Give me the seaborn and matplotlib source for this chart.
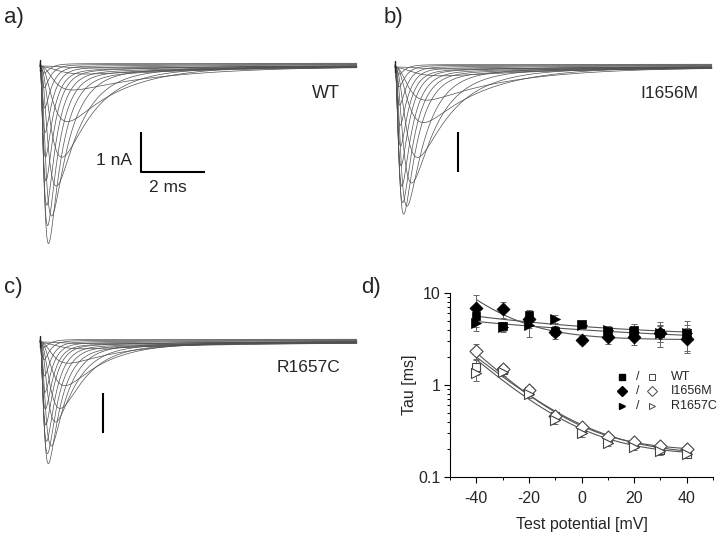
import numpy as np
import pandas as pd
import matplotlib
matplotlib.use('Agg')
import matplotlib.pyplot as plt
import seaborn as sns
from matplotlib.ticker import MultipleLocator, FixedLocator, FixedFormatter, LogLocator, NullFormatter

# ---------------- panels a-c: sodium current traces ----------------
# one entry per test pulse: peak current [nA], activation tau [ms], fast inactivation tau [ms]
wt_amp = [0.05, 0.18, 0.6, 1.4, 2.27, 3.0, 3.77, 4.43, 4.0, 3.5, 2.9, 2.3, 1.7, 1.1, 0.6, 0.25]
wt_tau_h = [4.0, 3.5, 3.0, 1.6, 1.0, 0.75, 0.55, 0.42, 0.37, 0.33, 0.3, 0.27, 0.25, 0.23, 0.21, 0.2]

i1656m_amp = [0.05, 0.2, 0.83, 1.4, 2.25, 2.9, 3.5, 3.67, 3.4, 3.0, 2.5, 2.0, 1.5, 1.0, 0.55, 0.25]
i1656m_tau_h = [4.0, 3.5, 2.6, 1.8, 1.1, 0.8, 0.6, 0.45, 0.39, 0.35, 0.31, 0.28, 0.26, 0.24, 0.22, 0.2]

r1657c_amp = [0.04, 0.15, 0.53, 1.1, 1.65, 2.0, 2.62, 3.03, 2.8, 2.5, 2.1, 1.7, 1.3, 0.9, 0.5, 0.2]
r1657c_tau_h = [3.5, 3.0, 1.8, 1.2, 0.8, 0.65, 0.5, 0.4, 0.35, 0.31, 0.28, 0.26, 0.24, 0.22, 0.2, 0.19]

trace_tau_m = [0.6, 0.45, 0.3, 0.3, 0.27, 0.2, 0.14, 0.1, 0.09, 0.08, 0.07, 0.065, 0.06, 0.055, 0.05, 0.05]
trace_offset = [0.0, -0.02, 0.0, 0.01, -0.01, 0.0, 0.02, -0.01, 0.01, 0.02, 0.03, 0.02, 0.04, 0.05, 0.06, 0.07]
slow_tau = 4.5      # ms, slow inactivation component
slow_frac = 0.03
artifact_nA = [0.15, -0.12]   # capacitive spike at pulse onset

# ---------------- panel d: inactivation time constants ----------------
potential = [-40, -30, -20, -10, 0, 10, 20, 30, 40]

wt_slow = [5.66, 4.33, 5.7, 3.9, 4.59, 3.9, 4.0, 3.7, 3.66]
wt_slow_err = [0.6, 0.5, 0.8, 0.5, 0.4, 0.5, 0.6, 1.1, 1.3]
wt_fast = [1.58, 1.46, 0.87, 0.46, 0.33, 0.26, 0.227, 0.196, 0.177]
wt_fast_err = [0.3, 0.15, 0.08, 0.04, 0.03, 0.02, 0.015, 0.015, 0.015]

i1656m_slow = [6.86, 6.7, 5.2, 3.8, 3.1, 3.3, 3.3, 3.7, 3.2]
i1656m_slow_err = [2.6, 1.3, 1.0, 0.6, 0.3, 0.5, 0.6, 0.8, 1.0]
i1656m_fast = [2.35, 1.48, 0.88, 0.46, 0.35, 0.27, 0.24, 0.216, 0.2]
i1656m_fast_err = [0.45, 0.15, 0.08, 0.04, 0.03, 0.02, 0.015, 0.015, 0.015]

r1657c_slow = [4.7, 4.3, 4.5, 5.25, 4.5, 4.0, 3.8, 3.66, 3.7]
r1657c_slow_err = [0.8, 0.5, 1.2, 0.5, 0.4, 0.4, 0.5, 0.7, 0.8]
r1657c_fast = [1.36, 1.4, 0.8, 0.42, 0.3, 0.235, 0.21, 0.19, 0.18]
r1657c_fast_err = [0.25, 0.15, 0.08, 0.04, 0.03, 0.02, 0.015, 0.015, 0.015]

# exponential fits tau = C + A * exp(-(V + 40) / k): (C, A, k)
wt_fit_slow = (3.3, 2.3, 50)
wt_fit_fast = (0.17, 1.85, 18)
i1656m_fit_slow = (3.1, 5.4, 15)
i1656m_fit_fast = (0.19, 2.06, 16)
r1657c_fit_slow = (2.8, 2.1, 70)
r1657c_fit_fast = (0.17, 1.72, 17)

sns.set_style('ticks')
plt.rcParams['font.family'] = ['Liberation Sans', 'DejaVu Sans']
plt.rcParams['axes.unicode_minus'] = False

W, H = 720, 534
fig = plt.figure(figsize=(W / 100, H / 100), dpi=100)


def px_axes(x0, y0, x1, y1):
    return fig.add_axes([x0 / W, 1 - y1 / H, (x1 - x0) / W, (y1 - y0) / H])


def px_text(x, y, s, **kw):
    fig.text(x / W, 1 - y / H, s, **kw)


t = np.linspace(0, 9.9, 1200)


def traces_frame(amp, tau_h):
    rows = []
    for i, (a, tm, th, off) in enumerate(zip(amp, trace_tau_m, tau_h, trace_offset)):
        m = (1 - np.exp(-t / tm)) ** 3
        h = (1 - slow_frac) * np.exp(-t / th) + slow_frac * np.exp(-t / slow_tau)
        g = m * h
        rows.append(pd.DataFrame({'t': t, 'I': -a * g / g.max() + off, 'trace': i}))
    return pd.concat(rows, ignore_index=True)


def draw_traces(ax, amp, tau_h):
    df = traces_frame(amp, tau_h)
    sns.lineplot(data=df, x='t', y='I', units='trace', estimator=None,
                 color='#505050', lw=0.5, ax=ax, legend=False)
    ax.plot([0, 0], artifact_nA, color='#222222', lw=1.0)
    ax.set_xlim(-0.3125, 10.0)
    ax.set_ylim(-4.6, 0.275)
    ax.axis('off')


# panel a
ax_a = px_axes(30, 55, 360, 250)
draw_traces(ax_a, wt_amp, wt_tau_h)
ax_a.plot([3.16, 3.16, 5.16], [-1.65, -2.65, -2.65], color='black', lw=1.5, solid_capstyle='butt')
px_text(340, 94, 'WT', ha='right', va='center', fontsize=13)
px_text(132, 160, '1 nA', ha='right', va='center', fontsize=12.5)
px_text(168, 188, '2 ms', ha='center', va='center', fontsize=12.5)

# panel b
ax_b = px_axes(385, 56, 715, 251)
draw_traces(ax_b, i1656m_amp, i1656m_tau_h)
ax_b.plot([1.97, 1.97], [-1.62, -2.62], color='black', lw=1.5, solid_capstyle='butt')
px_text(698, 94, 'I1656M', ha='right', va='center', fontsize=12.5)

# panel c
ax_c = px_axes(30, 331, 360, 526)
draw_traces(ax_c, r1657c_amp, r1657c_tau_h)
ax_c.plot([1.97, 1.97], [-1.28, -2.28], color='black', lw=1.5, solid_capstyle='butt')
px_text(340, 367, 'R1657C', ha='right', va='center', fontsize=12.5)

# panel d
ax_d = px_axes(450, 293, 713, 477)
fit_v = np.linspace(-40, 40, 81)
fit_rows = []
for name, fs, ff in [('WT', wt_fit_slow, wt_fit_fast),
                     ('I1656M', i1656m_fit_slow, i1656m_fit_fast),
                     ('R1657C', r1657c_fit_slow, r1657c_fit_fast)]:
    for comp, (c, a, k) in (('slow', fs), ('fast', ff)):
        fit_rows.append(pd.DataFrame({'V': fit_v, 'tau': c + a * np.exp(-(fit_v + 40) / k),
                                      'curve': name + comp}))
fits = pd.concat(fit_rows, ignore_index=True)
sns.lineplot(data=fits, x='V', y='tau', units='curve', estimator=None,
             color='#555555', lw=0.8, ax=ax_d, legend=False)

groups = [
    ('s', 36, wt_slow, wt_slow_err, wt_fast, wt_fast_err),
    ('D', 44, i1656m_slow, i1656m_slow_err, i1656m_fast, i1656m_fast_err),
    ('>', 52, r1657c_slow, r1657c_slow_err, r1657c_fast, r1657c_fast_err),
]
for marker, size, slow, slow_err, fast, fast_err in groups:
    for vals, err in ((slow, slow_err), (fast, fast_err)):
        ax_d.errorbar(potential, vals, yerr=err, fmt='none', ecolor='#666666',
                      elinewidth=0.7, capsize=2, capthick=0.7, zorder=2)
    sns.scatterplot(x=potential, y=slow, marker=marker, s=size, color='black',
                    edgecolor='black', linewidth=0.5, ax=ax_d, zorder=3)
    sns.scatterplot(x=potential, y=fast, marker=marker, s=size, color='white',
                    edgecolor='#444444', linewidth=0.8, ax=ax_d, zorder=3)

ax_d.set_yscale('log')
ax_d.set_ylim(0.1, 10)
ax_d.set_xlim(-50, 50)
ax_d.yaxis.set_major_locator(FixedLocator([0.1, 1, 10]))
ax_d.yaxis.set_major_formatter(FixedFormatter(['0.1', '1', '10']))
ax_d.yaxis.set_minor_locator(LogLocator(base=10, subs=np.arange(2, 10)))
ax_d.yaxis.set_minor_formatter(NullFormatter())
ax_d.xaxis.set_major_locator(FixedLocator([-40, -20, 0, 20, 40]))
ax_d.xaxis.set_minor_locator(MultipleLocator(10))
ax_d.tick_params(which='major', direction='out', length=4, width=0.8, labelsize=11.5, color='black')
ax_d.tick_params(axis='x', which='major', pad=6)
ax_d.tick_params(axis='y', which='major', pad=3)
ax_d.tick_params(which='minor', direction='out', length=2.5, width=0.7, color='black')
for side in ('top', 'right'):
    ax_d.spines[side].set_visible(False)
for side in ('left', 'bottom'):
    ax_d.spines[side].set_linewidth(0.8)
    ax_d.spines[side].set_color('black')
ax_d.set_xlabel('Test potential [mV]', fontsize=11.5, labelpad=8)
ax_d.set_ylabel('Tau [ms]', fontsize=11.5, labelpad=1)

# legend: filled / open marker pairs
legend_rows = [('s', 'WT', 0.545), ('D', 'I1656M', 0.467), ('>', 'R1657C', 0.386)]
for marker, label, yf in legend_rows:
    ax_d.plot(0.653, yf, marker=marker, ms=5, color='black', ls='none',
              transform=ax_d.transAxes, clip_on=False)
    ax_d.text(0.714, yf, '/', transform=ax_d.transAxes, ha='center', va='center', fontsize=9)
    ax_d.plot(0.769, yf, marker=marker, ms=5, mfc='white', mec='#444444', mew=0.7,
              ls='none', transform=ax_d.transAxes, clip_on=False)
    ax_d.text(0.839, yf, label, transform=ax_d.transAxes, ha='left', va='center', fontsize=9)

# panel letters
px_text(4, 18, 'a)', ha='left', va='center', fontsize=16)
px_text(384, 18, 'b)', ha='left', va='center', fontsize=16)
px_text(4, 287, 'c)', ha='left', va='center', fontsize=16)
px_text(361, 287, 'd)', ha='left', va='center', fontsize=16)

fig.savefig('out.png', dpi=100)
